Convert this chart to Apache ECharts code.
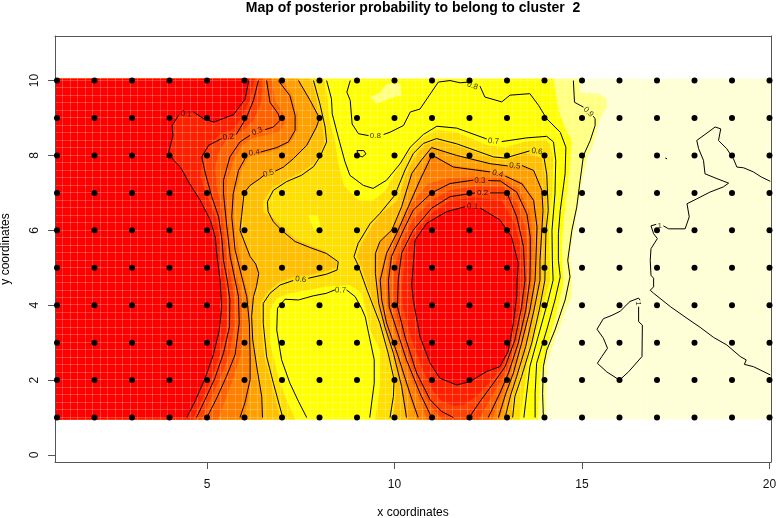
<!DOCTYPE html>
<html>
<head>
<meta charset="utf-8">
<title>Posterior probability map</title>
<script src="https://cdn.jsdelivr.net/npm/echarts@6/dist/echarts.min.js"></script>
<style>
  html, body { margin: 0; padding: 0; background: #fff; }
  #chart { width: 776px; height: 518px; }
</style>
</head>
<body>
<div id="chart"></div>
<script>
// sampling sites
const siteXs = [1, 2, 3, 4, 5, 6, 7, 8, 9, 10, 11, 12, 13, 14, 15, 16, 17, 18, 19, 20];
const siteYs = [1, 2, 3, 4, 5, 6, 7, 8, 9, 10];
const xTicks = [5, 10, 15, 20];
const yTicks = [0, 2, 4, 6, 8, 10];

// contour lines (a/b = the two sides of a label gap)
const c01a = [[4.46,1],[4.68,1.43],[4.95,2.05],[5.17,2.68],[5.33,3.34],[5.39,3.96],[5.35,4.67],[5.27,5.29],[5.22,5.82],[5.09,6.27],[4.82,6.8],[4.51,7.29],[4.29,7.69],[4.11,7.87],[3.98,8.09],[4.09,8.53],[4.07,8.8],[4.24,9.07]];
const c01b = [[4.64,9.16],[4.91,8.98],[5.18,8.89],[5.71,9.09],[6.02,9.51],[6.11,10]];
const c01well = [[12.28,6.6],[12.81,6.28],[13.12,5.83],[13.3,5.12],[13.27,4.67],[13.26,4.23],[13.17,3.52],[13.03,2.76],[12.81,2.36],[12.46,2.23],[12.01,1.96],[11.66,1.87],[11.21,2.05],[10.95,2.45],[10.68,3.16],[10.5,4.14],[10.46,4.54],[10.55,5.74],[10.86,6.19],[11.39,6.5],[11.88,6.63]];
const c02a = [[4.72,1],[4.95,1.48],[5.21,2.05],[5.44,2.72],[5.6,3.43],[5.61,4.14],[5.54,4.67],[5.44,5.2],[5.4,5.73],[5.31,6.36],[5.13,6.89],[4.96,7.51],[4.86,7.96],[5.04,8.27],[5.39,8.45]];
const c02b = [[5.78,8.56],[6.06,9.03],[6.24,9.47],[6.37,10]];
const c02c = [[11.57,1],[11.26,1.16],[10.95,1.475],[10.59,2.19],[10.28,3.16],[10.08,3.96],[10.1,4.67],[10.19,5.39],[10.5,6.01],[10.99,6.59],[11.48,6.9],[12.15,7]];
const c02d = [[12.55,7],[13,7],[13.26,6.36],[13.44,5.56],[13.48,4.67],[13.39,3.96],[13.21,3.07],[12.95,2.36],[12.64,1.92],[12.28,1.43],[11.99,1]];
const c03a = [[5,1],[5.26,1.52],[5.52,2.1],[5.75,2.68],[5.86,3.52],[5.84,4.23],[5.75,4.67],[5.62,5.29],[5.53,6.09],[5.44,6.98],[5.44,7.34],[5.61,7.96],[5.88,8.36],[6.15,8.54]];
const c03b = [[6.55,8.69],[6.77,8.76],[6.95,8.94],[6.9,9.11],[6.68,9.42],[6.59,10]];
const c03c = [[10.99,1],[10.68,1.65],[10.32,2.54],[10.06,3.34],[9.86,3.96],[9.84,4.67],[9.92,5.3],[10.24,6.01],[10.5,6.54],[10.99,7],[11.48,7.25],[12.1,7.34]];
const c03d = [[12.5,7.33],[12.82,7.32],[13.26,7.02],[13.53,6.44],[13.62,5.82],[13.62,5.2],[13.61,4.67],[13.5,3.87],[13.3,2.99],[13.04,2.19],[12.81,1.65],[12.5,1]];
const c04a = [[5.88,1],[6.01,1.39],[6.15,2.01],[6.15,2.63],[6.13,3.52],[6.06,4.23],[5.95,4.67],[5.75,5.47],[5.66,6.36],[5.7,6.98],[5.84,7.6],[6.06,8]];
const c04b = [[6.43,8.09],[6.86,8.21],[7.17,8.36],[7.35,8.67],[7.35,9.07],[7.21,9.6],[6.9,10]];
const c04c = [[10.63,1],[10.41,1.65],[10.1,2.63],[9.79,3.52],[9.66,4.14],[9.62,4.67],[9.79,5.39],[10.06,5.92],[10.37,6.63],[10.68,7.34],[11,8.01],[11.57,7.69],[12.55,7.56]];
const c04d = [[12.95,7.45],[13.4,7.24],[13.71,6.8],[13.8,6.09],[13.77,5.2],[13.75,4.67],[13.61,3.87],[13.39,2.99],[13.17,2.19],[12.97,1.65],[12.77,1]];
const c05a = [[6.48,1],[6.46,1.56],[6.34,2.275],[6.22,3.07],[6.19,3.7],[6.24,4.23],[6.32,4.5],[6.38,4.85],[6.3,5.1],[6.15,5.3],[5.88,6],[5.92,6.36],[5.99,7],[6.15,7.2],[6.41,7.38],[6.52,7.47]];
const c05b = [[6.82,7.58],[7.04,7.69],[7.3,7.91],[7.66,8.27],[7.92,8.76],[8,9],[7.75,9.47],[7.44,10]];
const c05c = [[10.32,1],[10.19,1.83],[9.97,2.72],[9.75,3.4],[9.58,4.05],[9.49,4.85],[9.49,5.38],[9.61,5.7],[9.93,6.01],[10.19,6.63],[10.46,7.52],[10.72,7.88],[10.99,8.21],[11.66,8],[12.55,7.78],[13.02,7.72]];
const c05d = [[13.4,7.73],[13.71,7.6],[13.93,7.07],[13.96,6.53],[13.93,6],[13.88,5.2],[13.88,4.67],[13.72,3.87],[13.5,2.9],[13.26,2.1],[13.1,1.61],[12.95,1]];
const c06a = [[7.84,10],[8.01,9.38],[8.15,8.76],[8.19,8.36],[8.01,7.96],[7.84,7.7],[7.52,7.47],[7.12,7.3],[6.77,7.07],[6.61,6.76],[6.63,6.5],[6.77,6.23],[6.99,6],[7.35,5.7],[7.75,5.54],[8.19,5.38],[8.5,5.16],[8.47,4.94],[8.19,4.83],[7.7,4.72]];
const c06b = [[7.3,4.66],[6.95,4.54],[6.68,4.32],[6.5,4.05],[6.5,3.52],[6.59,2.63],[6.77,1.92],[7.02,1]];
const c06c = [[9.88,1],[9.97,1.56],[9.99,2.01],[9.83,2.72],[9.61,3.52],[9.27,4.4],[9.03,5.07],[8.92,5.3],[9.03,5.65],[9.35,6.18],[9.61,6.45],[10.01,6.94],[10.28,7.61],[10.5,8.05],[10.77,8.32],[11.12,8.45],[11.66,8.31],[12.64,7.96],[12.95,7.93],[13.6,8.12]];
const c06d = [[13.97,8.05],[14.06,7.5],[14.1,6.53],[14.04,6],[14.02,5.2],[14.01,4.67],[13.86,3.87],[13.66,2.99],[13.39,2.1],[13.21,1.56],[13.15,1]];
const c07a = [[8.19,10],[8.32,9.51],[8.34,9.11],[8.5,8.49],[8.68,7.83],[8.81,7.47],[9.17,7.2],[9.43,7.12],[9.79,7.34],[10.15,7.78],[10.42,8.22],[10.77,8.56],[11.13,8.78],[11.66,8.73],[12.46,8.44]];
const c07b = [[12.86,8.37],[13.53,8.47],[14.06,8.51],[14.24,8.36],[14.3,7.87],[14.28,6.98],[14.2,6],[14.21,5.2],[14.23,4.67],[14.1,4.14],[13.83,3.16],[13.61,2.36],[13.45,1]];
const c07c = [[7.66,1],[7.44,1.43],[7.21,1.92],[6.99,2.54],[6.86,3.34],[6.88,3.92],[7.08,4.16],[7.44,4.14],[7.83,4.25],[8.19,4.32],[8.41,4.41]];
const c07d = [[8.72,4.41],[8.95,4.23],[9.12,3.92],[9.22,3.69],[9.31,3.25],[9.46,2.54],[9.46,1.92],[9.34,1]];
const c08a = [[8.82,10],[8.73,9.69],[8.82,9.47],[8.87,8.84],[9.04,8.58],[9.31,8.53]];
const c08b = [[9.71,8.56],[9.88,8.62],[10.24,8.8],[10.42,9.16],[10.68,9.24],[11.17,9.96],[11.48,10],[11.75,9.94],[11.97,9.96]];
const c08c = [[12.28,9.85],[12.41,9.56],[12.86,9.43],[13.08,9.61],[13.61,9.65],[13.84,9.34],[14.06,8.98],[14.42,8.62],[14.57,8.22],[14.55,7.51],[14.42,6.53],[14.37,5.91],[14.37,5.2],[14.42,4.76],[14.28,4.14],[14.06,3.34],[13.79,2.45],[13.75,1.65],[13.75,1]];
const c08loop = [[9,8.13],[9.18,8.13],[9.24,8.04],[9.14,7.96],[9.04,8],[9,8.13]];
const c09a = [[14.77,10],[14.8,9.42],[15.04,9.29]];
const c09b = [[15.3,9.05],[15.35,8.98],[15.35,8.8],[15.22,8.4],[15.04,8],[14.95,7.33],[14.86,6.62],[14.73,6],[14.62,5.2],[14.68,4.76],[14.55,4.14],[14.28,3.34],[14.06,2.8],[13.97,2.36],[13.95,1.64],[13.97,1]];
const c10a = [[20.02,7.31],[19.79,7.42],[19.57,7.56],[19.31,7.67],[19.13,7.69],[19.04,7.91],[18.86,8.18],[18.64,8.4],[18.7,8.71],[18.55,8.76],[18.28,8.56],[18.06,8.4],[18.11,8.18],[18.24,7.87],[18.28,7.51],[18.55,7.4],[18.91,7.26],[18.77,7.16],[18.41,7.02],[18.06,6.84],[17.8,6.71],[17.86,6.36],[17.75,6.04],[17.31,6.04],[17.17,6.12]];
const c10b = [[16.98,6.16],[16.84,6.12],[16.91,5.91],[17.01,5.78],[16.84,5.51],[16.82,5.2],[16.84,4.8],[16.91,4.72],[16.91,4.49],[16.82,4.4],[16.91,4.32],[17.36,3.96],[17.8,3.65],[18.15,3.41],[18.51,3.14],[18.86,2.94],[19.22,2.63],[19.38,2.54],[19.33,2.42],[19.57,2.36],[20.02,2.14]];
const c10loop = [[16.51,3.96],[16.51,3.56],[16.61,3.47],[16.6,2.63],[16.24,2.22],[16,2],[15.66,2.22],[15.41,2.45],[15.53,2.63],[15.68,2.85],[15.57,3.12],[15.4,3.36],[15.57,3.64],[15.8,3.73],[16.02,3.84],[16.28,4.1],[16.51,4.19],[16.55,4.13]];
const c10dot = [[17.22,7.93],[17.27,7.91],[17.24,7.88],[17.22,7.93]];

const contourLines = [c01a, c01b, c01well, c02a, c02b, c02c, c02d, c03a, c03b, c03c, c03d, c04a, c04b, c04c, c04d,
  c05a, c05b, c05c, c05d, c06a, c06b, c06c, c06d, c07a, c07b, c07c, c07d, c08a, c08b, c08c, c08loop, c09a, c09b,
  c10a, c10b, c10loop, c10dot];

// x, y, text, rotation
const contourLabels = [
  [4.45,9.11,'0.1',-4],[5.57,8.49,'0.2',6],[6.34,8.64,'0.3',22],[6.26,8.07,'0.4',8],[6.64,7.52,'0.5',14],
  [7.5,4.69,'0.6',-6],[8.56,4.4,'0.7',-3],[9.49,8.53,'0.8',0],[12.08,9.86,'0.8',-20],[15.17,9.16,'0.9',-45],
  [12.64,8.38,'0.7',-4],[13.8,8.11,'0.6',-8],[13.21,7.72,'0.5',-6],[12.75,7.51,'0.4',-14],[12.28,7.33,'0.3',-2],
  [12.35,7,'0.2',0],[12.08,6.64,'0.1',-4],[17.07,6.13,'1',0],[16.51,4.05,'1',-90]
];

// colour bands: each area holds the cells at or below a probability break
const bandAll = [[0.95,0.95],[20.05,0.95],[20.05,10.05],[0.95,10.05]];
const bandBelow92 = [[0.95,0.95],[14.04,0.95],[14.06,2.45],[14.24,2.98],[14.42,3.47],[14.6,3.96],[14.73,4.23],[14.73,4.76],[14.68,5.4],[14.77,5.91],[14.86,6.44],[14.95,6.98],[15.04,7.51],[15.17,8],[15.31,8.31],[15.4,8.67],[15.48,8.98],[15.66,9.29],[15.66,9.51],[15.48,9.64],[14.95,9.69],[14.95,10.05],[0.95,10.05]];
const bandBelow83 = [[0.95,0.95],[13.82,0.95],[13.88,2.1],[14.1,2.99],[14.32,3.79],[14.5,4.58],[14.46,5.56],[14.51,6.27],[14.6,6.98],[14.69,7.87],[14.73,8.4],[14.6,8.62],[14.42,9.07],[14.33,9.47],[14.24,10.05],[0.95,10.05]];
const patchPale = [[9.35,9.56],[9.57,9.65],[9.81,9.92],[10.15,9.92],[10.19,9.61],[9.88,9.52],[9.52,9.38]];
const bandBelow67 = [[0.95,0.95],[7.35,0.95],[7.08,1.56],[6.9,2.1],[6.68,2.99],[6.68,3.87],[6.86,4.19],[7.21,4.32],[7.75,4.41],[8.19,4.5],[8.81,4.54],[9.12,4.32],[9.26,3.79],[9.35,3.34],[9.62,2.8],[9.62,1.92],[9.49,0.95],[13.35,0.95],[13.53,2.3],[13.75,3.16],[14.02,4.2],[14.15,4.67],[14.14,5.2],[14.12,6],[14.2,7],[14.23,7.9],[14.15,8.3],[14,8.42],[13.5,8.37],[12.95,8.22],[12.46,8.28],[11.66,8.62],[11.13,8.68],[10.7,8.45],[10.35,8.05],[10.05,7.6],[9.75,7.05],[9.43,6.8],[9.05,6.8],[8.65,7.2],[8.5,7.8],[8.4,8.45],[8.25,9],[8.22,9.5],[8.12,10.05],[0.95,10.05]];
const patchYellow = [[7.7,6.4],[7.95,6.4],[8.05,6],[7.85,6]];
const bandBelow58a = [[0.95,0.95],[6.95,0.95],[6.72,1.92],[6.53,2.63],[6.44,3.52],[6.42,4.05],[6.62,4.36],[6.9,4.6],[7.3,4.75],[7.75,4.8],[8.19,4.92],[8.45,5],[8.45,5.16],[8.15,5.45],[7.75,5.6],[7.35,5.78],[6.99,6.1],[6.77,6.32],[6.5,6.5],[6.5,6.78],[6.72,7.12],[7.12,7.36],[7.52,7.55],[7.84,7.78],[7.98,8],[8.13,8.36],[8.08,8.76],[7.95,9.38],[7.78,10.05],[0.95,10.05]];
const bandBelow58b = [[9.95,0.95],[10.03,1.56],[10.02,2.01],[9.86,2.72],[9.65,3.5],[9.32,4.4],[9.1,5.07],[9,5.3],[9.12,5.65],[9.42,6.15],[9.66,6.45],[10.08,6.8],[10.33,7.55],[10.55,7.97],[10.8,8.27],[11.12,8.4],[11.66,8.26],[12.64,7.92],[12.95,7.88],[13.5,8.06],[13.95,7.92],[14.06,7],[14.03,6],[14,5.2],[13.98,4.67],[13.83,3.87],[13.63,2.99],[13.36,2.1],[13.18,1.56],[13.12,0.95]];
const bandBelow50a = [[0.95,0.95],[6.48,0.95],[6.46,1.56],[6.34,2.275],[6.22,3.07],[6.19,3.7],[6.24,4.23],[6.32,4.5],[6.38,4.85],[6.3,5.1],[6.15,5.3],[5.88,6],[5.92,6.36],[5.99,7],[6.15,7.2],[6.41,7.38],[6.64,7.52],[7.04,7.69],[7.3,7.91],[7.66,8.27],[7.92,8.76],[8,9],[7.75,9.47],[7.44,10.05],[0.95,10.05]];
const bandBelow50b = [[10.32,0.95],[10.19,1.83],[9.97,2.72],[9.75,3.4],[9.58,4.05],[9.49,4.85],[9.49,5.38],[9.61,5.7],[9.93,6.01],[10.19,6.63],[10.46,7.52],[10.72,7.88],[10.99,8.21],[11.66,8],[12.55,7.78],[13.08,7.72],[13.4,7.73],[13.71,7.6],[13.93,7.07],[13.96,6.53],[13.93,6],[13.88,5.2],[13.88,4.67],[13.72,3.87],[13.5,2.9],[13.26,2.1],[13.1,1.61],[12.95,0.95]];
const bandBelow42a = [[0.95,0.95],[5.98,0.95],[6.08,1.39],[6.17,2.01],[6.17,2.63],[6.15,3.52],[6.1,4.23],[6,4.67],[5.85,5.47],[5.72,6.36],[5.76,6.98],[5.9,7.55],[6.1,7.95],[6.43,8.03],[6.9,8.16],[7.22,8.33],[7.42,8.67],[7.42,9.07],[7.28,9.6],[7,10.05],[0.95,10.05]];
const bandBelow42b = [[10.58,0.95],[10.37,1.65],[10.05,2.63],[9.75,3.52],[9.62,4.14],[9.58,4.67],[9.75,5.39],[10.02,5.92],[10.33,6.63],[10.64,7.34],[10.95,8.05],[11.57,7.74],[12.55,7.6],[12.95,7.5],[13.43,7.28],[13.75,6.8],[13.83,6.09],[13.8,5.2],[13.77,4.67],[13.63,3.87],[13.41,2.99],[13.2,2.19],[13,1.65],[12.8,0.95]];
const bandBelow33a = [[0.95,0.95],[5.3,0.95],[5.5,1.5],[5.72,2.1],[5.9,2.68],[5.96,3.52],[5.92,4.23],[5.82,4.67],[5.67,5.29],[5.58,6.09],[5.52,6.98],[5.55,7.34],[5.72,7.9],[5.95,8.28],[6.2,8.45],[6.6,8.55],[6.9,8.62],[7.08,8.85],[7.02,9.15],[6.82,9.45],[6.72,10.05],[0.95,10.05]];
const bandBelow33b = [[10.87,0.95],[10.6,1.65],[10.24,2.58],[9.98,3.4],[9.8,4.02],[9.78,4.67],[9.86,5.35],[10.18,6.15],[10.45,6.7],[10.9,7.25],[11.45,7.4],[12.1,7.43],[12.85,7.4],[13.32,7.1],[13.6,6.5],[13.68,5.82],[13.67,5.2],[13.66,4.67],[13.54,3.87],[13.33,2.99],[13.08,2.19],[12.87,1.65],[12.6,0.95]];
const bandBelow25a = [[0.95,0.95],[4.86,0.95],[5.1,1.5],[5.37,2.08],[5.6,2.7],[5.73,3.48],[5.72,4.18],[5.65,4.67],[5.53,5.25],[5.46,5.9],[5.38,6.6],[5.25,7.2],[5.22,7.7],[5.3,8.05],[5.5,8.4],[5.95,8.65],[6.25,8.95],[6.45,9.45],[6.48,10.05],[0.95,10.05]];
const bandBelow25b = [[11.28,0.95],[10.97,1.3],[10.63,1.92],[10.3,2.85],[10.07,3.65],[9.97,4.3],[10,5],[10.2,5.7],[10.5,6.3],[10.99,6.8],[11.48,7.08],[12.15,7.17],[12.9,7.16],[13.28,6.7],[13.5,6],[13.55,5.4],[13.55,4.67],[13.45,3.9],[13.25,3.03],[13,2.27],[12.72,1.78],[12.39,1.2],[12.25,0.95]];
const bandBelow17a = [[0.95,0.95],[4.62,0.95],[4.87,1.47],[5.13,2.05],[5.35,2.7],[5.52,3.4],[5.54,4.1],[5.47,4.67],[5.38,5.25],[5.34,5.75],[5.24,6.33],[5.03,6.86],[4.82,7.42],[4.88,7.95],[5.05,8.22],[5.32,8.55],[5.7,8.7],[5.94,9.05],[6.14,9.47],[6.28,10.05],[0.95,10.05]];
const bandBelow17b = [[10.2,4.5],[10.3,5.5],[10.6,6.05],[11.05,6.5],[11.5,6.8],[12.15,6.88],[12.85,6.8],[13.2,6.2],[13.4,5.45],[13.41,4.67],[13.33,3.9],[13.15,3.1],[12.9,2.4],[12.58,1.98],[12.2,1.58],[11.85,1.35],[11.6,1.3],[11.25,1.45],[11,1.75],[10.72,2.35],[10.42,3.2],[10.22,3.98]];
const bandBelow08a = [[0.95,0.95], ...c01a, ...c01b, [6.11,10.05], [0.95,10.05]];
const bandBelow08b = c01well;

const bandAreas = [bandAll, bandBelow92, bandBelow83, patchPale, bandBelow67, patchYellow, bandBelow58a, bandBelow58b,
  bandBelow50a, bandBelow50b, bandBelow42a, bandBelow42b, bandBelow33a, bandBelow33b, bandBelow25a, bandBelow25b,
  bandBelow17a, bandBelow17b, bandBelow08a, bandBelow08b];
const bandColors = ['#FFFFD5', '#FFFF80', '#FFFF00', '#FFFF80', '#FFDF00', '#FFFF00', '#FFBF00', '#FFBF00',
  '#FF9F00', '#FF9F00', '#FF8000', '#FF8000', '#FF6000', '#FF6000', '#FF4000', '#FF4000',
  '#FF2000', '#FF2000', '#FF0000', '#FF0000'];

const sitePoints = [];
siteXs.forEach(x => siteYs.forEach(y => sitePoints.push([x, y])));

const FONT = '"Liberation Sans", Arial, sans-serif';
const X_MIN = 0.947, X_MAX = 20.04, Y_MIN = -0.187, Y_MAX = 11.19;

const chart = echarts.init(document.getElementById('chart'), null, { renderer: 'canvas' });

const series = [{
  type: 'custom',
  z: 1,
  silent: true,
  animation: false,
  data: bandAreas.map((a, i) => [i]),
  encode: { x: -1, y: -1 },
  renderItem(params, api) {
    const i = api.value(0);
    return {
      type: 'polygon',
      shape: { points: bandAreas[i].map(p => api.coord(p)) },
      style: { fill: bandColors[i] }
    };
  }
}];

contourLines.forEach(line => {
  series.push({
    type: 'line',
    z: 5,
    data: line,
    symbol: 'none',
    silent: true,
    animation: false,
    clip: false,
    lineStyle: { color: '#000', width: 1 }
  });
});

series.push({
  type: 'scatter',
  z: 6,
  silent: true,
  animation: false,
  symbolSize: 0,
  data: contourLabels.map(l => ({
    value: [l[0], l[1]],
    label: { formatter: l[2], rotate: l[3] }
  })),
  label: { show: true, position: 'inside', color: '#000', fontSize: 8, fontFamily: FONT }
});

series.push({
  type: 'scatter',
  z: 7,
  silent: true,
  animation: false,
  clip: false,
  symbolSize: 6,
  itemStyle: { color: '#000', opacity: 1 },
  data: sitePoints
});

const frameLine = { show: true, onZero: false, lineStyle: { color: '#555', width: 1 } };
const seamLine = { show: true, lineStyle: { color: 'rgba(255,255,255,0.22)', width: 1 } };
const hidden = { show: false };

chart.setOption({
  animation: false,
  backgroundColor: '#fff',
  title: {
    text: 'Map of posterior probability to belong to cluster  2',
    left: 408,
    top: -4,
    textAlign: 'center',
    textStyle: { color: '#000', fontFamily: FONT, fontWeight: 'bold', fontSize: 14 }
  },
  grid: { left: 55, right: 5, top: 36, height: 426, show: false, outerBoundsMode: 'none' },
  xAxis: [{
    type: 'value', min: X_MIN, max: X_MAX, position: 'bottom', z: 4,
    name: 'x coordinates', nameLocation: 'middle', nameGap: 45,
    nameTextStyle: { color: '#000', fontFamily: FONT, fontSize: 12 },
    axisLine: frameLine,
    axisTick: { show: true, length: 7, customValues: xTicks, lineStyle: { color: '#555' } },
    axisLabel: { show: true, customValues: xTicks, color: '#111', fontFamily: FONT, fontSize: 12, margin: 17 },
    splitLine: hidden
  }, {
    type: 'value', min: X_MIN, max: X_MAX, position: 'top', interval: 0.2, z: 3,
    axisLine: frameLine, axisTick: hidden, axisLabel: hidden, splitLine: seamLine
  }],
  yAxis: [{
    type: 'value', min: Y_MIN, max: Y_MAX, position: 'left', z: 4,
    name: 'y coordinates', nameLocation: 'middle', nameGap: 43,
    nameTextStyle: { color: '#000', fontFamily: FONT, fontSize: 12 },
    axisLine: frameLine,
    axisTick: { show: true, length: 7, customValues: yTicks, lineStyle: { color: '#555' } },
    axisLabel: { show: true, customValues: yTicks, rotate: 90, color: '#111', fontFamily: FONT, fontSize: 12, margin: 14 },
    splitLine: hidden
  }, {
    type: 'value', min: Y_MIN, max: Y_MAX, position: 'right', interval: 0.2, z: 3,
    axisLine: frameLine, axisTick: hidden, axisLabel: hidden, splitLine: seamLine
  }],
  series
});
</script>
</body>
</html>
